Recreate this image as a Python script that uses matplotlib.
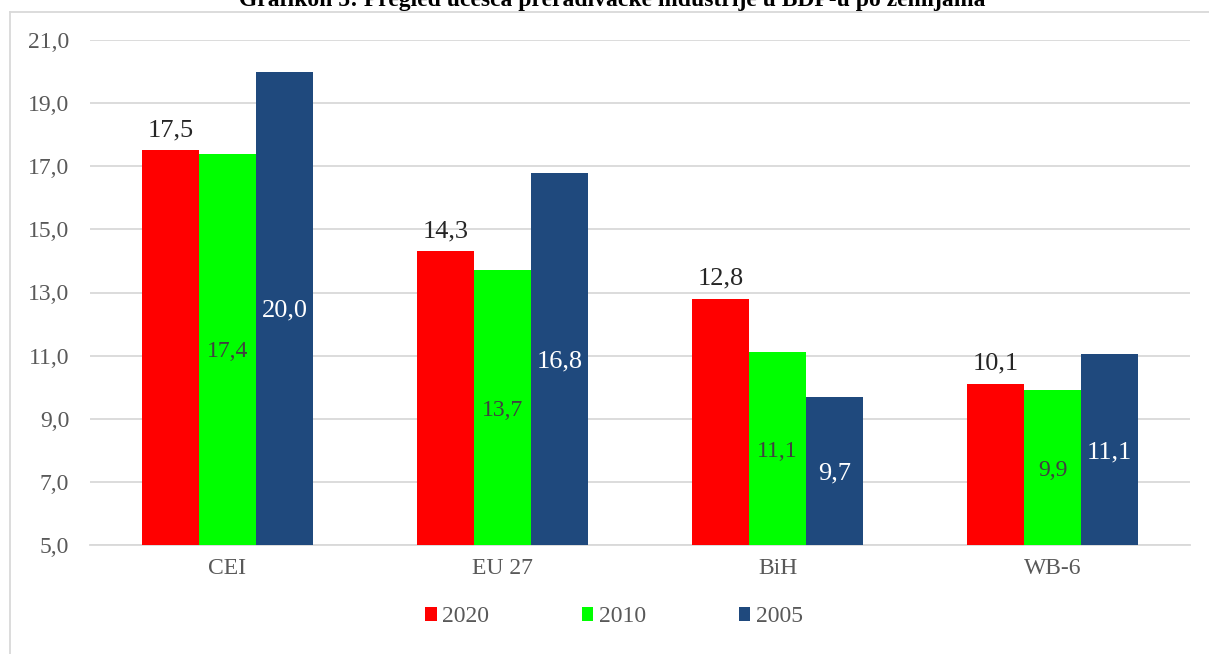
import numpy as np
import matplotlib.pyplot as plt
from matplotlib.lines import Line2D

plt.rcParams["font.family"] = ["Liberation Serif", "DejaVu Serif"]

# data
categories = ["CEI", "EU 27", "BiH", "WB-6"]
years = ["2020", "2010", "2005"]
v2020 = [17.5, 14.3, 12.8, 10.1]
v2010 = [17.4, 13.7, 11.1, 9.9]
v2005 = [20.0, 16.8, 9.7, 11.05]
yticks = [5, 7, 9, 11, 13, 15, 17, 19, 21]

colors = ["#ff0000", "#00ff00", "#1f497d"]
grey = "#595959"

fig = plt.figure(figsize=(12.09, 6.54), dpi=100)
ax = fig.add_axes([90 / 1209, 1 - 545 / 654, 1100 / 1209, 505 / 654])

x = np.arange(len(categories))
w = 0.207
series = [v2020, v2010, v2005]
bars = []
for i, vals in enumerate(series):
    b = ax.bar(x + (i - 1) * w, vals, width=w, color=colors[i], label=years[i], zorder=3)
    bars.append(b)

def fmt(v):
    return f"{v:.1f}".replace(".", ",")

# value labels
for xi, v in zip(x, v2020):
    ax.text(xi - w, v + 0.3, fmt(v), ha="center", va="bottom",
            fontsize=19, color="#262626", zorder=4)
for xi, v in zip(x, v2010):
    ax.text(xi, (v + 5) / 2, fmt(v), ha="center", va="center_baseline",
            fontsize=17, color="#404040", zorder=4)
for xi, v in zip(x, v2005):
    ax.text(xi + w, (v + 5) / 2, fmt(v), ha="center", va="center_baseline",
            fontsize=19, color="white", zorder=4)

ax.set_ylim(5, 21)
ax.set_xlim(-0.5, 3.5)
ax.set_yticks(yticks)
ax.set_yticklabels([fmt(t) for t in yticks])
ax.set_xticks(x)
ax.set_xticklabels(categories)
ax.tick_params(axis="both", length=0, labelsize=17, colors=grey)
ax.tick_params(axis="y", pad=15)
ax.tick_params(axis="x", pad=9)
ax.grid(axis="y", color="#d9d9d9", linewidth=1.3, zorder=0)
for s in ["top", "right", "left"]:
    ax.spines[s].set_visible(False)
ax.spines["bottom"].set_color("#d9d9d9")
ax.spines["bottom"].set_linewidth(1.3)

leg = fig.legend(handles=bars, labels=years, loc="center",
                 bbox_to_anchor=(614 / 1209, 1 - 617 / 654), ncol=3, frameon=False,
                 fontsize=17, handlelength=0.5, handleheight=0.5, handletextpad=0.25,
                 columnspacing=3.9)
for t in leg.get_texts():
    t.set_color(grey)

# chart frame
fig.add_artist(Line2D([10 / 1209, 10 / 1209], [0, 1 - 12 / 654], color="#d9d9d9",
                      linewidth=1.3, transform=fig.transFigure))
fig.add_artist(Line2D([10 / 1209, 1], [1 - 12 / 654, 1 - 12 / 654], color="#d9d9d9",
                      linewidth=1.3, transform=fig.transFigure))

# title, cut off at the top edge as in the source
fig.text(612 / 1209, 1 - 6 / 654, "Grafikon 5: Pregled učešća prerađivačke industrije u BDP-u po zemljama",
         ha="center", va="baseline", fontsize=17, fontweight="bold")

fig.savefig("out.png", dpi=100)
